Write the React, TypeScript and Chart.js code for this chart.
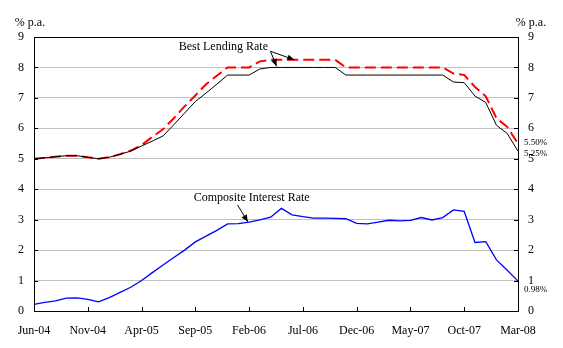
import React, { useEffect, useRef } from "react";
import { Chart, registerables } from "chart.js";

Chart.register(...registerables);

const months = [
  "Jun-04", "Jul-04", "Aug-04", "Sep-04", "Oct-04", "Nov-04", "Dec-04",
  "Jan-05", "Feb-05", "Mar-05", "Apr-05", "May-05", "Jun-05", "Jul-05", "Aug-05", "Sep-05", "Oct-05", "Nov-05", "Dec-05",
  "Jan-06", "Feb-06", "Mar-06", "Apr-06", "May-06", "Jun-06", "Jul-06", "Aug-06", "Sep-06", "Oct-06", "Nov-06", "Dec-06",
  "Jan-07", "Feb-07", "Mar-07", "Apr-07", "May-07", "Jun-07", "Jul-07", "Aug-07", "Sep-07", "Oct-07", "Nov-07", "Dec-07",
  "Jan-08", "Feb-08", "Mar-08",
];

// Best lending rate (lower, black solid)
const bestLendingLow = [
  5.0, 5.03, 5.07, 5.1, 5.1, 5.05, 5.0, 5.05, 5.15, 5.25,
  5.42, 5.58, 5.75, 6.12, 6.5, 6.88, 7.16, 7.45, 7.75, 7.75,
  7.75, 7.95, 8.0, 8.0, 8.0, 8.0, 8.0, 8.0, 8.0, 7.75,
  7.75, 7.75, 7.75, 7.75, 7.75, 7.75, 7.75, 7.75, 7.75, 7.52,
  7.5, 7.06, 6.85, 6.1, 5.83, 5.25,
];

// Best lending rate (upper, red dashed)
const bestLendingHigh = [
  5.0, 5.03, 5.07, 5.1, 5.1, 5.05, 5.0, 5.05, 5.15, 5.27,
  5.45, 5.72, 5.97, 6.33, 6.72, 7.08, 7.45, 7.73, 8.0, 8.0,
  8.0, 8.2, 8.25, 8.25, 8.25, 8.25, 8.25, 8.25, 8.25, 8.0,
  8.0, 8.0, 8.0, 8.0, 8.0, 8.0, 8.0, 8.0, 8.0, 7.8,
  7.75, 7.36, 7.05, 6.33, 6.05, 5.5,
];

// Composite interest rate (blue)
const compositeRate = [
  0.22, 0.28, 0.33, 0.42, 0.43, 0.38, 0.3, 0.44, 0.61, 0.78,
  1.0, 1.26, 1.51, 1.76, 2.0, 2.27, 2.46, 2.65, 2.86, 2.87,
  2.92, 2.99, 3.08, 3.37, 3.16, 3.1, 3.05, 3.05, 3.04, 3.03,
  2.88, 2.86, 2.92, 2.98, 2.96, 2.98, 3.07, 2.99, 3.07, 3.32,
  3.27, 2.25, 2.28, 1.68, 1.34, 0.98,
];

const yTicks = [0, 1, 2, 3, 4, 5, 6, 7, 8, 9];
const FONT = "Liberation Serif";

function arrow(ctx: CanvasRenderingContext2D, x1: number, y1: number, x2: number, y2: number) {
  ctx.beginPath();
  ctx.moveTo(x1, y1);
  ctx.lineTo(x2, y2);
  ctx.stroke();
  const a = Math.atan2(y2 - y1, x2 - x1);
  const L = 7, W = 3;
  ctx.beginPath();
  ctx.moveTo(x2, y2);
  ctx.lineTo(x2 - L * Math.cos(a) + W * Math.sin(a), y2 - L * Math.sin(a) - W * Math.cos(a));
  ctx.lineTo(x2 - L * Math.cos(a) - W * Math.sin(a), y2 - L * Math.sin(a) + W * Math.cos(a));
  ctx.closePath();
  ctx.fill();
}

const decorPlugin = {
  id: "decor",
  afterDatasetsDraw(chart: any) {
    const ctx: CanvasRenderingContext2D = chart.ctx;
    const { left, right, top, bottom } = chart.chartArea;
    const xs = chart.scales.x;
    const ys = chart.scales.y;
    const X = (i: number) => xs.getPixelForValue(i);
    const Y = (v: number) => ys.getPixelForValue(v);
    ctx.save();
    ctx.strokeStyle = "#000";
    ctx.fillStyle = "#000";
    ctx.lineWidth = 1;
    // frame
    ctx.strokeRect(Math.round(left) + 0.5, Math.round(top) + 0.5, Math.round(right - left), Math.round(bottom - top));
    // x tick marks (inside)
    ctx.beginPath();
    for (let i = 5; i < months.length - 1; i += 5) {
      const x = Math.round(X(i)) + 0.5;
      ctx.moveTo(x, bottom);
      ctx.lineTo(x, bottom - 4);
    }
    // y tick marks (inside, both sides)
    for (const v of yTicks) {
      const y = Math.round(Y(v)) + 0.5;
      ctx.moveTo(left, y);
      ctx.lineTo(left + 4, y);
      ctx.moveTo(right, y);
      ctx.lineTo(right - 4, y);
    }
    ctx.stroke();

    // axis unit labels
    ctx.font = `12px ${FONT}`;
    ctx.textBaseline = "middle";
    ctx.textAlign = "center";
    ctx.fillText("% p.a.", left - 4, top - 14);
    ctx.fillText("% p.a.", right + 13, top - 14);

    // annotations
    ctx.textAlign = "left";
    ctx.fillText("Best Lending Rate", X(13.45), Y(8.67));
    ctx.fillText("Composite Interest Rate", X(14.85), Y(3.71));
    arrow(ctx, X(21.99), Y(8.53), X(22.55), Y(8.04));
    arrow(ctx, X(21.99), Y(8.53), X(24.2), Y(8.25));
    arrow(ctx, X(18.93), Y(3.48), X(19.88), Y(2.93));

    // end value labels
    ctx.font = `9px ${FONT}`;
    ctx.textAlign = "left";
    const last = months.length - 1;
    ctx.fillText(bestLendingHigh[last].toFixed(2) + "%", right + 6, Y(5.54));
    ctx.fillText(bestLendingLow[last].toFixed(2) + "%", right + 6, Y(5.17));
    ctx.fillText(compositeRate[last].toFixed(2) + "%", right + 6, Y(0.7));
    ctx.restore();
  },
};

export default function App() {
  const ref = useRef<HTMLCanvasElement | null>(null);
  useEffect(() => {
    if (!ref.current) return;
    const chart = new Chart(ref.current, {
      type: "line",
      data: {
        labels: months,
        datasets: [
          {
            label: "Best Lending Rate (low)",
            data: bestLendingLow,
            borderColor: "#000000",
            borderWidth: 1,
            pointRadius: 0,
            tension: 0,
            yAxisID: "y",
          },
          {
            label: "Best Lending Rate (high)",
            data: bestLendingHigh,
            borderColor: "#ff0000",
            borderWidth: 2,
            borderDash: [11, 5],
            pointRadius: 0,
            tension: 0,
            yAxisID: "y",
          },
          {
            label: "Composite Interest Rate",
            data: compositeRate,
            borderColor: "#0000ff",
            borderWidth: 1.3,
            pointRadius: 0,
            tension: 0,
            yAxisID: "y",
          },
        ],
      },
      options: {
        responsive: false,
        animation: false,
        devicePixelRatio: 1,
        layout: { padding: { top: 37, left: 0, right: 0, bottom: 0 } },
        plugins: { legend: { display: false }, tooltip: { enabled: false } },
        scales: {
          x: {
            type: "category",
            offset: false,
            grid: { display: false, drawTicks: false },
            border: { display: false },
            ticks: {
              autoSkip: false,
              maxRotation: 0,
              minRotation: 0,
              padding: 13,
              color: "#000",
              font: { family: FONT, size: 12 },
              callback: function (this: any, value: any, index: number) {
                return index % 5 === 0 ? months[index] : "";
              },
            },
            afterFit: (s: any) => {
              s.height = 37;
            },
          },
          y: {
            position: "left",
            min: 0,
            max: 9,
            grid: { color: "#c0c0c0", lineWidth: 1, drawTicks: false },
            border: { display: false },
            ticks: {
              stepSize: 1,
              padding: 10,
              color: "#000",
              font: { family: FONT, size: 12 },
            },
            afterFit: (s: any) => {
              s.width = 34;
            },
          },
          y2: {
            position: "right",
            min: 0,
            max: 9,
            grid: { display: false, drawTicks: false },
            border: { display: false },
            ticks: {
              stepSize: 1,
              padding: 10,
              color: "#000",
              font: { family: FONT, size: 12 },
            },
            afterFit: (s: any) => {
              s.width = 45;
            },
          },
        },
      },
      plugins: [decorPlugin],
    });
    return () => chart.destroy();
  }, []);
  return (
    <div style={{ position: "absolute", left: 0, top: 0, width: 563, height: 348, background: "#fff" }}>
      <canvas ref={ref} width={563} height={348} style={{ width: 563, height: 348, display: "block" }} />
    </div>
  );
}
